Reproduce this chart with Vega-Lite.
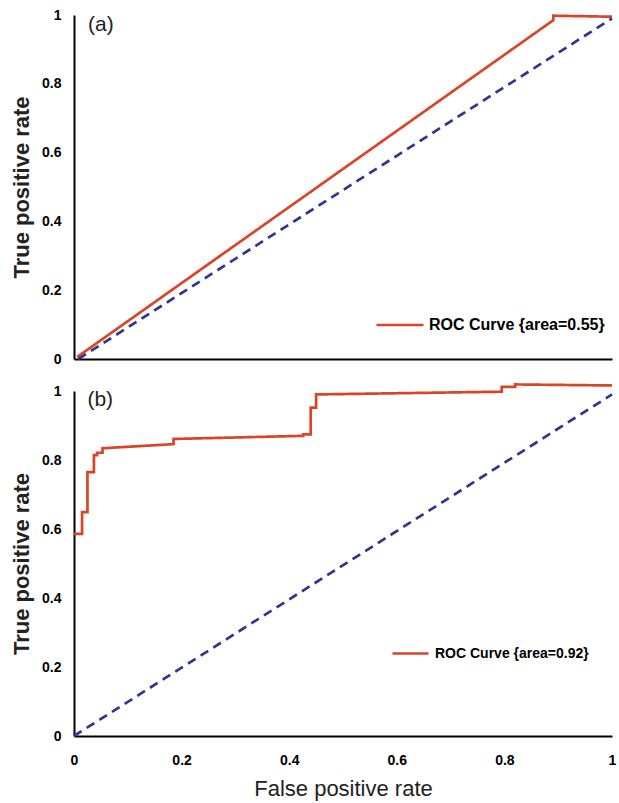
{
  "$schema": "https://vega.github.io/schema/vega-lite/v6.json",
  "padding": {"left": 10, "top": 8, "right": 2, "bottom": 3},
  "background": "white",
  "bounds": "flush",
  "spacing": 32,
  "config": {
    "font": "Liberation Sans",
    "view": {"stroke": null},
    "axis": {
      "grid": false,
      "ticks": false,
      "domainColor": "black",
      "domainWidth": 2,
      "labelFont": "Liberation Sans",
      "labelFontSize": 14,
      "labelFontWeight": "bold",
      "labelColor": "black",
      "labelFlush": false,
      "titleFont": "Liberation Sans",
      "titleFontSize": 22,
      "titleFontWeight": "normal",
      "titleColor": "#222222"
    },
    "legend": {"labelLimit": 0}
  },
  "datasets": {
    "a": [
      {"i": 0, "series": "ROC Curve {area=0.55}", "fpr": 0.006, "tpr": 0.006},
      {"i": 1, "series": "ROC Curve {area=0.55}", "fpr": 0.891, "tpr": 0.985},
      {"i": 2, "series": "ROC Curve {area=0.55}", "fpr": 0.891, "tpr": 0.998},
      {"i": 3, "series": "ROC Curve {area=0.55}", "fpr": 1.0, "tpr": 0.995},
      {"i": 0, "series": "Chance", "fpr": 0.008, "tpr": 0.0},
      {"i": 1, "series": "Chance", "fpr": 1.0, "tpr": 0.99}
    ],
    "b": [
      {"i": 0, "series": "ROC Curve {area=0.92}", "fpr": 0.0, "tpr": 0.586},
      {"i": 1, "series": "ROC Curve {area=0.92}", "fpr": 0.015, "tpr": 0.586},
      {"i": 2, "series": "ROC Curve {area=0.92}", "fpr": 0.015, "tpr": 0.649},
      {"i": 3, "series": "ROC Curve {area=0.92}", "fpr": 0.025, "tpr": 0.649},
      {"i": 4, "series": "ROC Curve {area=0.92}", "fpr": 0.025, "tpr": 0.765},
      {"i": 5, "series": "ROC Curve {area=0.92}", "fpr": 0.037, "tpr": 0.765},
      {"i": 6, "series": "ROC Curve {area=0.92}", "fpr": 0.037, "tpr": 0.814},
      {"i": 7, "series": "ROC Curve {area=0.92}", "fpr": 0.043, "tpr": 0.814},
      {"i": 8, "series": "ROC Curve {area=0.92}", "fpr": 0.043, "tpr": 0.821},
      {"i": 9, "series": "ROC Curve {area=0.92}", "fpr": 0.053, "tpr": 0.821},
      {"i": 10, "series": "ROC Curve {area=0.92}", "fpr": 0.053, "tpr": 0.834},
      {"i": 11, "series": "ROC Curve {area=0.92}", "fpr": 0.185, "tpr": 0.846},
      {"i": 12, "series": "ROC Curve {area=0.92}", "fpr": 0.185, "tpr": 0.861},
      {"i": 13, "series": "ROC Curve {area=0.92}", "fpr": 0.426, "tpr": 0.870},
      {"i": 14, "series": "ROC Curve {area=0.92}", "fpr": 0.426, "tpr": 0.874},
      {"i": 15, "series": "ROC Curve {area=0.92}", "fpr": 0.440, "tpr": 0.874},
      {"i": 16, "series": "ROC Curve {area=0.92}", "fpr": 0.440, "tpr": 0.952},
      {"i": 17, "series": "ROC Curve {area=0.92}", "fpr": 0.450, "tpr": 0.952},
      {"i": 18, "series": "ROC Curve {area=0.92}", "fpr": 0.450, "tpr": 0.990},
      {"i": 19, "series": "ROC Curve {area=0.92}", "fpr": 0.795, "tpr": 0.998},
      {"i": 20, "series": "ROC Curve {area=0.92}", "fpr": 0.795, "tpr": 1.012},
      {"i": 21, "series": "ROC Curve {area=0.92}", "fpr": 0.820, "tpr": 1.012},
      {"i": 22, "series": "ROC Curve {area=0.92}", "fpr": 0.820, "tpr": 1.019},
      {"i": 23, "series": "ROC Curve {area=0.92}", "fpr": 1.0, "tpr": 1.016},
      {"i": 0, "series": "Chance", "fpr": 0.0, "tpr": 0.0},
      {"i": 1, "series": "Chance", "fpr": 1.0, "tpr": 0.99}
    ],
    "one": [{"k": 1}]
  },
  "vconcat": [
    {
      "width": 538,
      "height": 344,
      "layer": [
        {
          "data": {"name": "a"},
          "mark": {"type": "line", "strokeWidth": 2.7},
          "encoding": {
            "x": {"field": "fpr", "type": "quantitative", "scale": {"domain": [0, 1], "nice": false},
                  "axis": {"title": null, "labels": false, "values": [0, 0.2, 0.4, 0.6, 0.8, 1]}},
            "y": {"field": "tpr", "type": "quantitative", "scale": {"domain": [0, 1], "nice": false},
                  "axis": {"title": "True positive rate", "titleFontWeight": "bold", "values": [0, 0.2, 0.4, 0.6, 0.8, 1], "format": "~g", "labelPadding": 13, "titlePadding": 8}},
            "order": {"field": "i", "type": "quantitative"},
            "color": {"field": "series", "type": "nominal",
                      "scale": {"domain": ["ROC Curve {area=0.55}", "Chance"], "range": ["#d84527", "#2f3590"]},
                      "legend": {"title": null, "orient": "none", "legendX": 301, "legendY": 285,
                                 "values": ["ROC Curve {area=0.55}"], "symbolType": "stroke", "symbolSize": 2209,
                                 "symbolStrokeWidth": 2.5, "labelFontSize": 16, "labelFontWeight": "bold",
                                 "labelFont": "Liberation Sans", "labelColor": "black", "labelOffset": 4, "labelLimit": 0}},
            "strokeDash": {"field": "series", "type": "nominal",
                           "scale": {"domain": ["ROC Curve {area=0.55}", "Chance"], "range": [[1, 0], [9, 6]]},
                           "legend": null}
          }
        },
        {
          "data": {"name": "one"},
          "mark": {"type": "text", "text": "(a)", "align": "left", "baseline": "middle", "fontSize": 21, "font": "Liberation Sans", "color": "#222222"},
          "encoding": {"x": {"datum": 0.026}, "y": {"datum": 0.971}}
        }
      ]
    },
    {
      "width": 538,
      "height": 345,
      "layer": [
        {
          "data": {"name": "b"},
          "mark": {"type": "line", "strokeWidth": 2.7},
          "encoding": {
            "x": {"field": "fpr", "type": "quantitative", "scale": {"domain": [0, 1], "nice": false},
                  "axis": {"title": "False positive rate", "values": [0, 0.2, 0.4, 0.6, 0.8, 1], "format": "~g", "labelPadding": 17, "titlePadding": 11}},
            "y": {"field": "tpr", "type": "quantitative", "scale": {"domain": [0, 1], "nice": false},
                  "axis": {"title": "True positive rate", "titleFontWeight": "bold", "values": [0, 0.2, 0.4, 0.6, 0.8, 1], "format": "~g", "labelPadding": 13, "titlePadding": 8}},
            "order": {"field": "i", "type": "quantitative"},
            "color": {"field": "series", "type": "nominal",
                      "scale": {"domain": ["ROC Curve {area=0.92}", "Chance"], "range": ["#d84527", "#2f3590"]},
                      "legend": {"title": null, "orient": "none", "legendX": 317, "legendY": 243,
                                 "values": ["ROC Curve {area=0.92}"], "symbolType": "stroke", "symbolSize": 1296,
                                 "symbolStrokeWidth": 2.5, "labelFontSize": 14, "labelFontWeight": "bold",
                                 "labelFont": "Liberation Sans", "labelColor": "black", "labelOffset": 5, "labelLimit": 0}},
            "strokeDash": {"field": "series", "type": "nominal",
                           "scale": {"domain": ["ROC Curve {area=0.92}", "Chance"], "range": [[1, 0], [9, 6]]},
                           "legend": null}
          }
        },
        {
          "data": {"name": "one"},
          "mark": {"type": "text", "text": "(b)", "align": "left", "baseline": "middle", "fontSize": 21, "font": "Liberation Sans", "color": "#222222"},
          "encoding": {"x": {"datum": 0.025}, "y": {"datum": 0.974}}
        }
      ]
    }
  ],
  "resolve": {"scale": {"color": "independent", "strokeDash": "independent", "x": "independent", "y": "independent"}, "legend": {"color": "independent"}}
}
